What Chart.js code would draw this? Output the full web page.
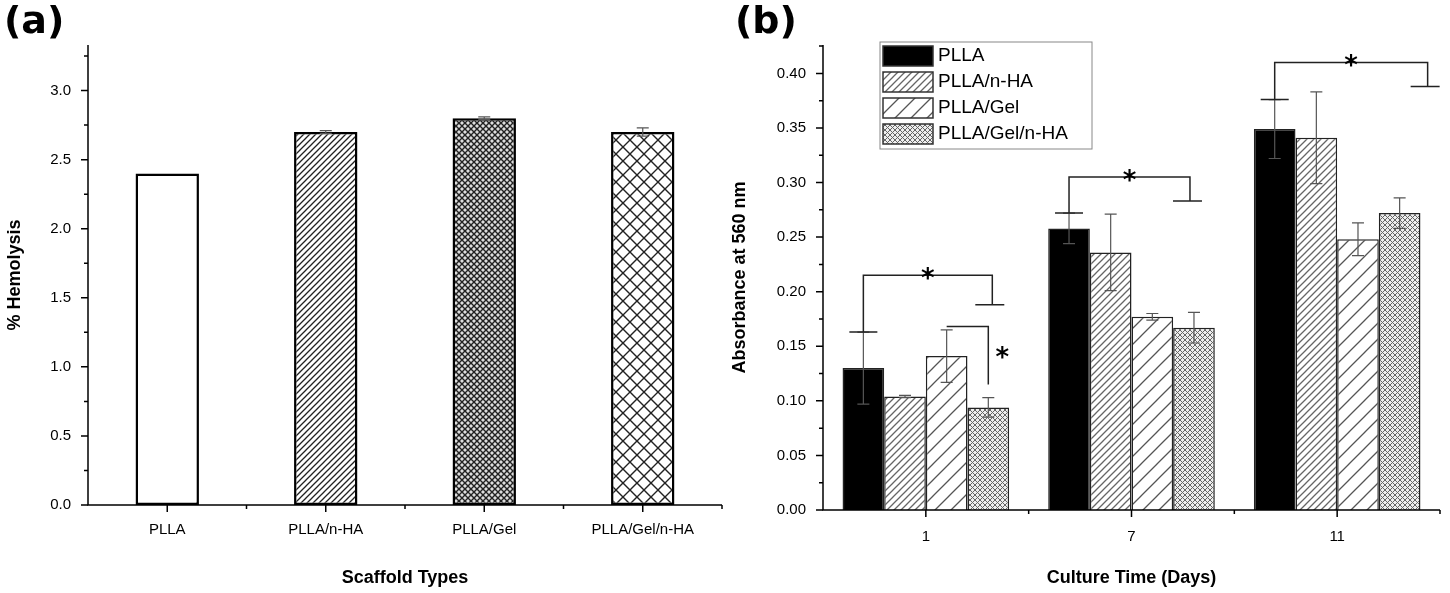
<!DOCTYPE html>
<html><head><meta charset="utf-8">
<script src="https://cdn.jsdelivr.net/npm/chart.js@4"></script>
<style>
body{margin:0;background:#fff;width:1450px;height:593px;position:relative;overflow:hidden;font-family:"Liberation Sans",Arial,sans-serif}
canvas{position:absolute;top:0;left:0}
.lbl{position:absolute;top:-2px;font:bold 38px/44px "DejaVu Sans";color:#000}
</style></head><body>
<div style="position:absolute;left:0;top:0;width:725px;height:593px"><canvas id="ca" width="725" height="593"></canvas></div>
<div style="position:absolute;left:725px;top:0;width:725px;height:593px"><canvas id="cb" width="725" height="593"></canvas></div>
<div class="lbl" style="left:4px">(a)</div>
<div class="lbl" style="left:735px">(b)</div>
<script>
// ---- data ----
const scaffoldTypes = ['PLLA','PLLA/n-HA','PLLA/Gel','PLLA/Gel/n-HA'];
const hemolysis = [2.4, 2.7, 2.8, 2.7];
const hemolysisErr = [0, 0.01, 0.01, 0.03];
const days = ['1','7','11'];
const absPLLA = [0.130, 0.258, 0.349];
const absPLLAnHA = [0.104, 0.236, 0.341];
const absPLLAGel = [0.141, 0.177, 0.248];
const absPLLAGelnHA = [0.094, 0.167, 0.272];
const errPLLA = [0.033, 0.014, 0.027];
const errPLLAnHA = [0.001, 0.035, 0.042];
const errPLLAGel = [0.024, 0.003, 0.015];
const errPLLAGelnHA = [0.009, 0.014, 0.014];
const yTicksA = [0,0.5,1.0,1.5,2.0,2.5,3.0];
const yTicksB = [0,0.05,0.10,0.15,0.20,0.25,0.30,0.35,0.40];

function pat(size, color, bg, fn){
  const c=document.createElement('canvas');c.width=c.height=size;
  const x=c.getContext('2d');x.fillStyle=bg;x.fillRect(0,0,size,size);
  x.strokeStyle=color;fn(x,size);
  return x.createPattern(c,'repeat');
}
function diag(x,s){x.beginPath();x.moveTo(0,s);x.lineTo(s,0);x.moveTo(-s/2,s/2);x.lineTo(s/2,-s/2);x.moveTo(s/2,s*1.5);x.lineTo(s*1.5,s/2);x.stroke();}
function anti(x,s){x.beginPath();x.moveTo(0,0);x.lineTo(s,s);x.moveTo(-s/2,s/2);x.lineTo(s/2,s*1.5);x.moveTo(s/2,-s/2);x.lineTo(s*1.5,s/2);x.stroke();}
function cross(x,s){diag(x,s);anti(x,s);}
const pA = [
 '#fff',
 pat(6,'#222','#fff',(x,s)=>{x.lineWidth=1.3;diag(x,s);}),
 pat(6,'#222','#ddd',(x,s)=>{x.lineWidth=1.4;cross(x,s);}),
 pat(14,'#222','#fff',(x,s)=>{x.lineWidth=1.4;cross(x,s);})
];
const pB = [
 '#000',
 pat(7,'#666','#fff',(x,s)=>{x.lineWidth=1.3;diag(x,s);}),
 pat(16,'#555','#fff',(x,s)=>{x.lineWidth=1.3;diag(x,s);}),
 pat(5,'#666','#eee',(x,s)=>{x.lineWidth=1;cross(x,s);})
];
const tickFont={family:'"Liberation Sans", Arial',size:15};
const titleFont={family:'"Liberation Sans", Arial',size:18,weight:'bold'};

function axesPlugin(minorStep){
 return {id:'ax',afterDraw(ch){
  const c=ch.ctx,a=ch.chartArea,y=ch.scales.y,x=ch.scales.x;
  c.save();c.strokeStyle='#000';c.lineWidth=1.5;
  c.beginPath();c.moveTo(a.left,a.top);c.lineTo(a.left,a.bottom);c.lineTo(a.right,a.bottom);c.stroke();
  c.beginPath();
  for(let v=0;v<=y.max+1e-9;v+=minorStep){
   const py=y.getPixelForValue(v);const major=Math.abs(Math.round(v/(minorStep*2))*(minorStep*2)-v)<1e-9;
   c.moveTo(a.left,py);c.lineTo(a.left-(major?7:4),py);
  }
  const n=x.ticks.length;const half=(x.getPixelForValue(1)-x.getPixelForValue(0))/2;
  for(let i=0;i<n;i++){const px=x.getPixelForValue(i);c.moveTo(px,a.bottom);c.lineTo(px,a.bottom+7);
    c.moveTo(px+half,a.bottom);c.lineTo(px+half,a.bottom+4);}
  c.stroke();c.restore();
 }};
}
function errPlugin(errs){
 return {id:'err',afterDatasetsDraw(ch){
  const c=ch.ctx,y=ch.scales.y;c.save();c.strokeStyle='#555';c.lineWidth=1.2;
  errs.forEach((e,di)=>{const m=ch.getDatasetMeta(di);
   m.data.forEach((b,i)=>{if(!e[i])return;const v=ch.data.datasets[di].data[i];
    const t=y.getPixelForValue(v+e[i]),bt=y.getPixelForValue(v-e[i]);const w=6;
    c.beginPath();c.moveTo(b.x,t);c.lineTo(b.x,bt);c.moveTo(b.x-w,t);c.lineTo(b.x+w,t);c.moveTo(b.x-w,bt);c.lineTo(b.x+w,bt);c.stroke();});
  });c.restore();}};
}

new Chart(document.getElementById('ca'),{type:'bar',
 data:{labels:scaffoldTypes,datasets:[{data:hemolysis,backgroundColor:pA,borderColor:'#000',borderWidth:2.5,borderSkipped:false,categoryPercentage:1,barPercentage:0.4}]},
 options:{responsive:false,animation:false,devicePixelRatio:1,
  layout:{padding:{top:45,right:3,left:0,bottom:0}},
  plugins:{legend:{display:false},tooltip:{enabled:false}},
  scales:{
   x:{grid:{display:false},border:{display:false},ticks:{font:tickFont,color:'#000',padding:8},
      title:{display:true,text:'Scaffold Types',font:titleFont,color:'#000',padding:{top:22}},
      afterFit(s){s.height=88;}},
   y:{min:0,max:3.33,afterBuildTicks(s){s.ticks=yTicksA.map(v=>({value:v}));},
      grid:{display:false},border:{display:false},
      ticks:{font:tickFont,color:'#000',padding:9,callback:v=>v.toFixed(1)},
      title:{display:true,text:'% Hemolysis',font:titleFont,color:'#000'},
      afterFit(s){s.width=88;}}
  }},
 plugins:[axesPlugin(0.25),errPlugin([hemolysisErr])]
});

const bLabels=['PLLA','PLLA/n-HA','PLLA/Gel','PLLA/Gel/n-HA'];
const bData=[absPLLA,absPLLAnHA,absPLLAGel,absPLLAGelnHA];
const bErr=[errPLLA,errPLLAnHA,errPLLAGel,errPLLAGelnHA];
const sig={id:'sig',afterDraw(ch){
 const c=ch.ctx,y=ch.scales.y;const X=(d,i)=>ch.getDatasetMeta(d).data[i].x;
 c.save();c.strokeStyle='#222';c.lineWidth=1.5;c.fillStyle='#000';c.font='bold 26px "DejaVu Sans"';c.textAlign='center';
 function br(i,yl,yt,yr,xr){
  const xl=X(0,i);c.beginPath();
  c.moveTo(xl-14,y.getPixelForValue(yl));c.lineTo(xl+14,y.getPixelForValue(yl));
  c.moveTo(xl,y.getPixelForValue(yl));c.lineTo(xl,y.getPixelForValue(yt));c.lineTo(xr,y.getPixelForValue(yt));
  c.lineTo(xr,y.getPixelForValue(yr));c.moveTo(xr-17,y.getPixelForValue(yr));c.lineTo(xr+12,y.getPixelForValue(yr));c.stroke();
  c.fillText('*',(xl+xr)/2,y.getPixelForValue(yt)-2+14);
 }
 br(0,0.163,0.215,0.188,X(3,0)+4);
 br(1,0.272,0.305,0.283,X(3,1)-4);
 br(2,0.376,0.41,0.388,X(3,2)+28);
 c.beginPath();c.moveTo(X(2,0),y.getPixelForValue(0.168));c.lineTo(X(3,0),y.getPixelForValue(0.168));c.lineTo(X(3,0),y.getPixelForValue(0.115));c.stroke();
 c.fillText('*',X(3,0)+14,y.getPixelForValue(0.145)+14);
 const L=155,T=42;c.fillStyle='#fff';c.strokeStyle='#888';c.lineWidth=1;c.fillRect(L,T,212,107);c.strokeRect(L,T,212,107);
 c.font='19px "Liberation Sans", Arial';c.textAlign='left';c.textBaseline='middle';
 bLabels.forEach((t,i)=>{const yy=T+13+i*26;c.fillStyle=pB[i];c.fillRect(L+3,yy-9,50,20);c.strokeStyle='#333';c.lineWidth=1.5;c.strokeRect(L+3,yy-9,50,20);
  c.fillStyle='#000';c.fillText(t,L+58,yy+1);});
 c.restore();}};
new Chart(document.getElementById('cb'),{type:'bar',
 data:{labels:days,datasets:bData.map((d,i)=>({label:bLabels[i],data:d,backgroundColor:pB[i],borderColor:'#222',borderWidth:1.5,borderSkipped:'bottom',categoryPercentage:0.81,barPercentage:1}))},
 options:{responsive:false,animation:false,devicePixelRatio:1,
  layout:{padding:{top:45,right:10,left:0,bottom:0}},
  plugins:{legend:{display:false},tooltip:{enabled:false}},
  scales:{
   x:{grid:{display:false},border:{display:false},ticks:{font:tickFont,color:'#000',padding:10},
      title:{display:true,text:'Culture Time (Days)',font:titleFont,color:'#000',padding:{top:14}},
      afterFit(s){s.height=83;}},
   y:{min:0,max:0.426,afterBuildTicks(s){s.ticks=yTicksB.map(v=>({value:v}));},
      grid:{display:false},border:{display:false},
      ticks:{font:tickFont,color:'#000',padding:9,callback:v=>v.toFixed(2)},
      title:{display:true,text:'Absorbance at 560 nm',font:titleFont,color:'#000'},
      afterFit(s){s.width=98;}}
  }},
 plugins:[axesPlugin(0.025),errPlugin(bErr),sig]
});
</script></body></html>
